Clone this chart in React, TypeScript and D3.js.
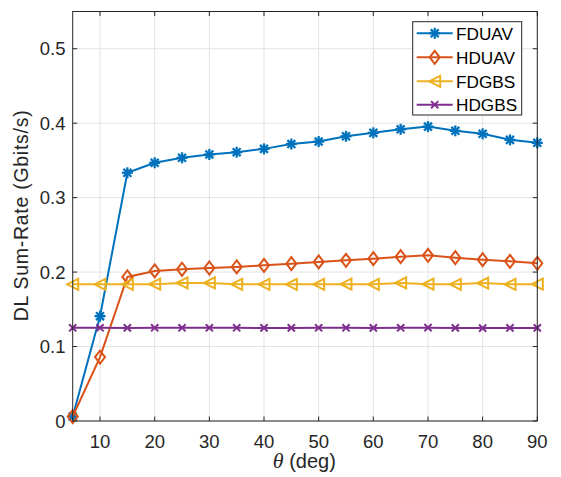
import React from "react";
import * as d3 from "d3";

const thetas = [5, 10, 15, 20, 25, 30, 35, 40, 45, 50, 55, 60, 65, 70, 75, 80, 85, 90];
const fduav = [0.006, 0.1408, 0.3334, 0.3468, 0.3535, 0.358, 0.361, 0.3655, 0.372, 0.3753, 0.3824, 0.387, 0.3918, 0.3954, 0.3897, 0.3857, 0.3776, 0.3736];
const hduav = [0.006, 0.0858, 0.1935, 0.2015, 0.2038, 0.2055, 0.2069, 0.2091, 0.2113, 0.2136, 0.2158, 0.218, 0.2207, 0.2225, 0.2194, 0.2167, 0.2145, 0.2118];
const fdgbs = [0.1836, 0.1836, 0.1836, 0.1838, 0.1854, 0.1854, 0.1836, 0.1836, 0.1836, 0.1836, 0.1838, 0.1836, 0.1855, 0.1838, 0.1836, 0.1852, 0.1836, 0.1838];
const hdgbs = [0.1252, 0.1252, 0.125, 0.1252, 0.1252, 0.1252, 0.1252, 0.125, 0.125, 0.1252, 0.1252, 0.125, 0.1252, 0.1254, 0.125, 0.1248, 0.125, 0.125];
const seriesNames = ["FDUAV", "HDUAV", "FDGBS", "HDGBS"];
const xTicks = [10, 20, 30, 40, 50, 60, 70, 80, 90];
const yTicks = [0, 0.1, 0.2, 0.3, 0.4, 0.5];

const colors = ["#0072BD", "#D95319", "#EDB120", "#7E2F8E"];
const markers = ["star", "diamond", "triangle", "x"];

const L = 72.7, R = 537.3, T = 11.5, B = 421;
const x = d3.scaleLinear().domain([5, 90]).range([L, R]);
const y = d3.scaleLinear().domain([0, 0.55]).range([B, T]);
const FONT = "'Liberation Sans', Arial, Helvetica, sans-serif";

function Marker({ type, cx, cy, color }: { type: string; cx: number; cy: number; color: string }) {
  const sw = 2;
  if (type === "star") {
    const r = 5.5;
    const d = r * 0.72;
    return (
      <g stroke={color} strokeWidth={2.3} fill="none">
        <line x1={cx - r} y1={cy} x2={cx + r} y2={cy} />
        <line x1={cx} y1={cy - r} x2={cx} y2={cy + r} />
        <line x1={cx - d} y1={cy - d} x2={cx + d} y2={cy + d} />
        <line x1={cx - d} y1={cy + d} x2={cx + d} y2={cy - d} />
      </g>
    );
  }
  if (type === "diamond") {
    const w = 5, h = 6.5;
    return (
      <path d={`M${cx},${cy - h}L${cx + w},${cy}L${cx},${cy + h}L${cx - w},${cy}Z`} stroke={color} strokeWidth={sw} fill="none" />
    );
  }
  if (type === "triangle") {
    const w = 5.5, h = 5.5;
    return (
      <path d={`M${cx - w},${cy}L${cx + w},${cy - h}L${cx + w},${cy + h}Z`} stroke={color} strokeWidth={sw} fill="none" />
    );
  }
  const r = 3.6;
  return (
    <g stroke={color} strokeWidth={sw}>
      <line x1={cx - r} y1={cy - r} x2={cx + r} y2={cy + r} />
      <line x1={cx - r} y1={cy + r} x2={cx + r} y2={cy - r} />
    </g>
  );
}

export default function App() {
  const allSeries = [fduav, hduav, fdgbs, hdgbs];
  const line = d3.line<number>().x((_, i) => x(thetas[i])).y((v) => y(v));
  const legendYs = [33.3, 57.3, 81.3, 104.7];
  return (
    <svg width={561} height={477} style={{ position: "absolute", left: 0, top: 0, background: "#fff" }} fontFamily={FONT}>
      <rect x={0} y={0} width={561} height={477} fill="#fff" />
      <rect x={L} y={T} width={R - L} height={B - T} fill="#fff" />
      {/* grid */}
      {xTicks.map((t) => (
        <line key={"gx" + t} x1={x(t)} x2={x(t)} y1={T} y2={B} stroke="#e3e3e3" strokeWidth={1} />
      ))}
      {yTicks.map((t) => (
        <line key={"gy" + t} x1={L} x2={R} y1={y(t)} y2={y(t)} stroke="#e3e3e3" strokeWidth={1} />
      ))}
      {/* ticks */}
      {xTicks.map((t) => (
        <g key={"tx" + t} stroke="#262626" strokeWidth={1}>
          <line x1={x(t)} x2={x(t)} y1={B} y2={B - 4.5} />
          <line x1={x(t)} x2={x(t)} y1={T} y2={T + 4.5} />
        </g>
      ))}
      {yTicks.map((t) => (
        <g key={"ty" + t} stroke="#262626" strokeWidth={1}>
          <line x1={L} x2={L + 4.5} y1={y(t)} y2={y(t)} />
          <line x1={R} x2={R - 4.5} y1={y(t)} y2={y(t)} />
        </g>
      ))}
      {/* series */}
      {allSeries.map((s, k) => (
        <g key={"s" + k}>
          <path d={line(s) || ""} fill="none" stroke={colors[k]} strokeWidth={2} />
          {s.map((v, i) => (
            <Marker key={i} type={markers[k]} cx={x(thetas[i])} cy={y(v)} color={colors[k]} />
          ))}
        </g>
      ))}
      {/* box */}
      <rect x={L} y={T} width={R - L} height={B - T} fill="none" stroke="#262626" strokeWidth={1} />
      {/* tick labels */}
      {xTicks.map((t) => (
        <text key={"lx" + t} x={x(t)} y={447.7} textAnchor="middle" fontSize={18.5} fill="#262626">
          {t}
        </text>
      ))}
      {yTicks.map((t) => (
        <text key={"ly" + t} x={65.5} y={y(t) + 6.6} textAnchor="end" fontSize={18.5} fill="#262626">
          {t === 0 ? "0" : d3.format(".1f")(t)}
        </text>
      ))}
      {/* axis labels */}
      <text
        transform={`translate(27.5,${(110 + 321.7) / 2}) rotate(-90)`}
        textAnchor="middle"
        fontSize={19.5}
        fill="#262626"
        textLength={211}
        lengthAdjust="spacing"
      >
        DL Sum-Rate (Gbits/s)
      </text>
      <text x={(272.7 + 336) / 2} y={468} textAnchor="middle" fontSize={20} fill="#262626">
        <tspan fontFamily="'Liberation Serif', 'Times New Roman', serif" fontStyle="italic" fontSize={22}>θ</tspan>
        <tspan> (deg)</tspan>
      </text>
      {/* legend */}
      <rect x={412.7} y={21.7} width={109} height={93.3} fill="#fff" stroke="#262626" strokeWidth={1} />
      {seriesNames.map((n, k) => (
        <g key={"lg" + k}>
          <line x1={416.7} x2={452.7} y1={legendYs[k]} y2={legendYs[k]} stroke={colors[k]} strokeWidth={2} />
          <Marker type={markers[k]} cx={434.7} cy={legendYs[k]} color={colors[k]} />
          <text x={456} y={legendYs[k] + 6.2} fontSize={17.2} fill="#000">
            {n}
          </text>
        </g>
      ))}
    </svg>
  );
}
